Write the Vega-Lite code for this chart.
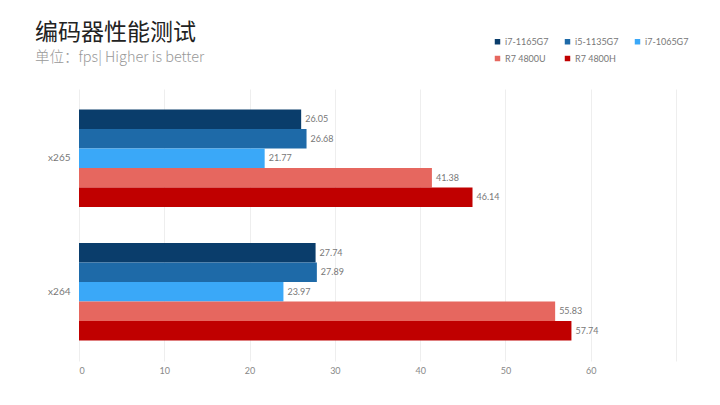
{
  "$schema": "https://vega.github.io/schema/vega-lite/v6.json",
  "width": 597,
  "height": 272,
  "autosize": {"type": "none"},
  "padding": {"left": 79, "top": 89, "right": 44, "bottom": 44},
  "background": "white",
  "view": {"stroke": null},
  "title": {
    "text": "编码器性能测试",
    "subtitle": "单位：fps| Higher is better",
    "anchor": "start",
    "frame": "group",
    "dx": -44,
    "offset": -27,
    "font": "Noto Sans CJK SC",
    "fontSize": 23,
    "fontWeight": "normal",
    "color": "#222222",
    "subtitleFont": "Noto Sans CJK SC",
    "subtitleFontSize": 14.5,
    "subtitleFontWeight": 300,
    "subtitleColor": "#999999",
    "subtitlePadding": 6
  },
  "data": {
    "values": [
      {"codec": "x265", "cpu": "i7-1165G7", "fps": 26.05},
      {"codec": "x265", "cpu": "i5-1135G7", "fps": 26.68},
      {"codec": "x265", "cpu": "i7-1065G7", "fps": 21.77},
      {"codec": "x265", "cpu": "R7 4800U", "fps": 41.38},
      {"codec": "x265", "cpu": "R7 4800H", "fps": 46.14},
      {"codec": "x264", "cpu": "i7-1165G7", "fps": 27.74},
      {"codec": "x264", "cpu": "i5-1135G7", "fps": 27.89},
      {"codec": "x264", "cpu": "i7-1065G7", "fps": 23.97},
      {"codec": "x264", "cpu": "R7 4800U", "fps": 55.83},
      {"codec": "x264", "cpu": "R7 4800H", "fps": 57.74}
    ]
  },
  "encoding": {
    "y": {
      "field": "codec",
      "type": "nominal",
      "sort": ["x265", "x264"],
      "scale": {"paddingInner": 0.27, "paddingOuter": 0.153},
      "axis": {
        "title": null,
        "domain": false,
        "ticks": false,
        "labelPadding": 9,
        "labelFont": "Lato",
        "labelFontSize": 10,
        "labelColor": "#777777"
      }
    },
    "yOffset": {
      "field": "cpu",
      "type": "nominal",
      "sort": ["i7-1165G7", "i5-1135G7", "i7-1065G7", "R7 4800U", "R7 4800H"]
    },
    "x": {
      "field": "fps",
      "type": "quantitative",
      "scale": {"domain": [0, 70], "nice": false},
      "axis": {
        "title": null,
        "values": [0, 10, 20, 30, 40, 50, 60, 70],
        "domain": false,
        "ticks": false,
        "grid": true,
        "gridColor": "#eeeeee",
        "labelPadding": 5,
        "labelFont": "Lato",
        "labelFontSize": 9,
        "labelColor": "#888888",
        "labelExpr": "datum.value == 70 ? '' : datum.label"
      }
    }
  },
  "layer": [
    {
      "mark": {"type": "bar"},
      "encoding": {
        "color": {
          "field": "cpu",
          "type": "nominal",
          "sort": ["i7-1165G7", "i5-1135G7", "i7-1065G7", "R7 4800U", "R7 4800H"],
          "scale": {
            "domain": ["i7-1165G7", "i5-1135G7", "i7-1065G7", "R7 4800U", "R7 4800H"],
            "range": ["#0a3d6b", "#1e6aa8", "#3aa8f8", "#e6675f", "#c00000"]
          },
          "legend": {
            "title": null,
            "orient": "none",
            "legendX": 414,
            "legendY": -52,
            "columns": 3,
            "direction": "horizontal",
            "gridAlign": "all",
            "symbolType": "square",
            "symbolSize": 30,
            "symbolStrokeWidth": 0,
            "labelFont": "Lato",
            "labelFontSize": 9,
            "labelColor": "#777777",
            "labelOffset": 3,
            "columnPadding": 14,
            "rowPadding": 7
          }
        }
      }
    },
    {
      "mark": {
        "type": "text",
        "align": "left",
        "baseline": "middle",
        "dx": 4,
        "font": "Lato",
        "fontSize": 9,
        "color": "#777777"
      },
      "encoding": {
        "text": {"field": "fps", "type": "quantitative", "format": ".2f"}
      }
    }
  ]
}
